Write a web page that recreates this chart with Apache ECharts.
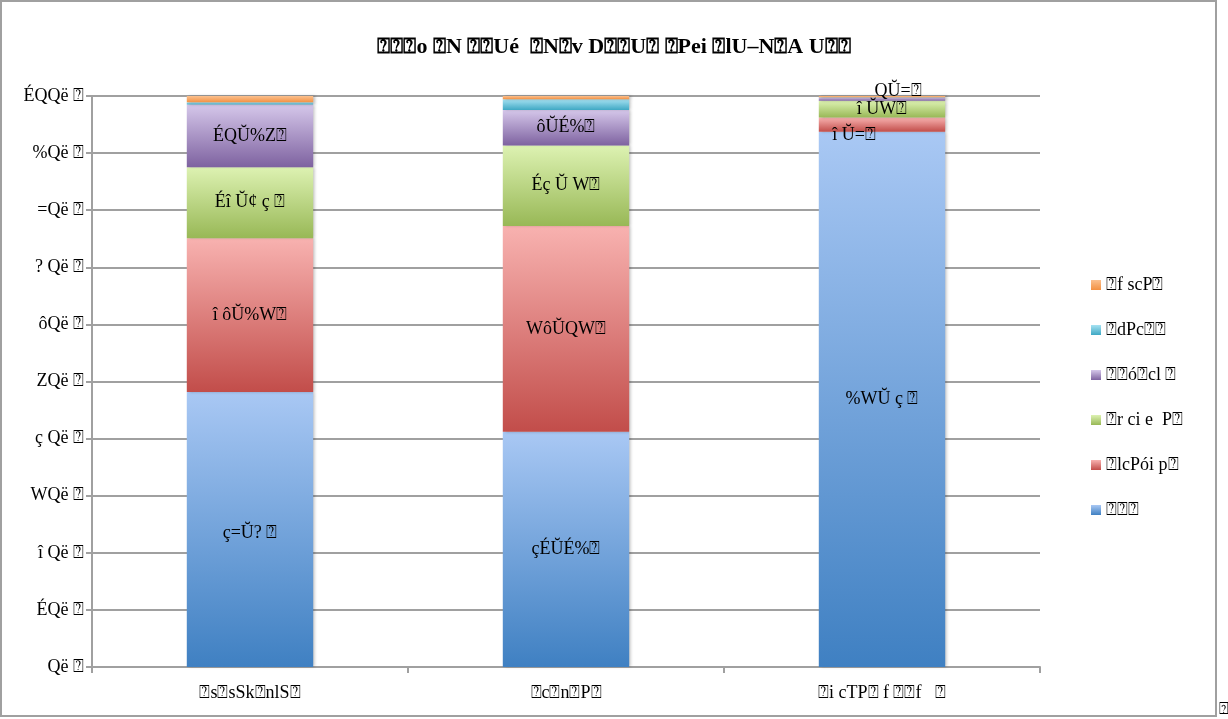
<!DOCTYPE html>
<html><head><meta charset="utf-8">
<script src="https://cdn.jsdelivr.net/npm/echarts@6/dist/echarts.min.js"></script>
<style>html,body{margin:0;padding:0;background:#fff}#c{width:1228px;height:719px}</style>
</head><body><div id="c"></div>
<script>
const titleText = '⍰⍰⍰o ⍰N ⍰⍰Ué  ⍰N⍰v D⍰⍰U⍰ ⍰Pei ⍰lU–N⍰A U⍰⍰';
const categories = ['⍰s⍰sSk⍰nlS⍰', '⍰c⍰n⍰P⍰', '⍰i cTP⍰ f ⍰⍰f   ⍰'];
const yTickLabels = ['Që ⍰','ÉQë ⍰','î Që ⍰','WQë ⍰','ç Që ⍰','ZQë ⍰','ôQë ⍰','? Që ⍰','=Që ⍰','%Që ⍰','ÉQQë ⍰'];
const seriesNames = ['⍰⍰⍰', '⍰lcPói p⍰', '⍰r ci e  P⍰', '⍰⍰ó⍰cl ⍰', '⍰dPc⍰⍰', '⍰f scP⍰'];
const blueValues   = [48.17, 41.19, 93.74];
const redValues    = [26.93, 36.03, 2.48];
const greenValues  = [12.44, 14.13, 2.93];
const purpleValues = [10.95, 6.19, 0.58];
const cyanValues   = [0.40, 1.89, 0.05];
const orangeValues = [1.11, 0.57, 0.22];
const blueLabels   = ['ç=Ŭ? ⍰', 'çÉŬÉ%⍰', '%WŬ ç ⍰'];
const redLabels    = ['î ôŬ%W⍰', 'WôŬQW⍰', 'î Ŭ=⍰'];
const greenLabels  = ['Éî Ŭ¢ ç ⍰', 'Éç Ŭ W⍰', 'î ŬW⍰'];
const purpleLabels = ['ÉQŬ%Z⍰', 'ôŬÉ%⍰', 'QŬ=⍰'];

const FONT = '"Liberation Serif", "DejaVu Serif", serif';
function grad(top, bottom) {
  return new echarts.graphic.LinearGradient(0, 0, 0, 1, [
    {offset: 0, color: top}, {offset: 1, color: bottom}
  ]);
}
const styles = [
  grad('#a9c8f4', '#3f80c2'),
  grad('#f8b2b0', '#c24d4a'),
  grad('#ddf2b2', '#98b856'),
  grad('#d5c7ea', '#7e62a0'),
  grad('#a6e2f2', '#3fa8c4'),
  grad('#fbc08e', '#f39142')
];
const values = [blueValues, redValues, greenValues, purpleValues, cyanValues, orangeValues];
const labels = [blueLabels, redLabels, greenLabels, purpleLabels, null, null];
const labelOffsets = {
  '1-2': [-28, 11],
  '3-2': [16, -8],
  '0-0': [0, 4]
};
const series = values.map((vals, si) => ({
  name: seriesNames[si],
  type: 'bar',
  stack: 'total',
  barWidth: '40%',
  itemStyle: {color: styles[si], shadowColor: 'rgba(0,0,0,0.25)', shadowBlur: 3, shadowOffsetX: 2},
  data: vals.map((v, ci) => {
    const item = {value: v};
    if (labels[si]) {
      item.label = {
        show: true, position: 'inside',
        formatter: labels[si][ci],
        color: '#000', fontFamily: FONT, fontSize: 18,
        offset: labelOffsets[si + '-' + ci] || [0, 0]
      };
    }
    return item;
  }),
  emphasis: {disabled: true}
}));

const chart = echarts.init(document.getElementById('c'));
chart.setOption({
  animation: false,
  title: {
    text: titleText, left: 'center', top: 31,
    textStyle: {fontFamily: FONT, fontSize: 22, fontWeight: 'bold', color: '#000'}
  },
  legend: {
    orient: 'vertical', left: 1086, top: 271, itemGap: 27,
    itemWidth: 10, itemHeight: 10, icon: 'rect',
    data: seriesNames.slice().reverse(),
    textStyle: {fontFamily: FONT, fontSize: 18, color: '#000'}
  },
  grid: {left: 92, right: 188, top: 96, bottom: 52},
  xAxis: {
    type: 'category', data: categories,
    axisLine: {lineStyle: {color: '#a0a0a0', width: 2}},
    axisTick: {show: true, length: 6, lineStyle: {color: '#a0a0a0', width: 2}},
    axisLabel: {fontFamily: FONT, fontSize: 18, color: '#000', margin: 17}
  },
  yAxis: {
    type: 'value', min: 0, max: 100, interval: 10,
    axisLine: {show: true, lineStyle: {color: '#a0a0a0', width: 2}},
    axisTick: {show: true, length: 6, lineStyle: {color: '#a0a0a0', width: 2}},
    splitLine: {lineStyle: {color: '#a0a0a0', width: 2}},
    axisLabel: {
      fontFamily: FONT, fontSize: 18, color: '#000', margin: 8,
      formatter: (v) => yTickLabels[Math.round(v / 10)]
    }
  },
  graphic: [
    {type: 'rect', shape: {x: 1, y: 1, width: 1215, height: 715}, silent: true,
     style: {fill: 'none', stroke: '#a0a0a0', lineWidth: 2}},
    {type: 'text', left: 1219, top: 702, silent: true,
     style: {text: '⍰', font: '16px ' + FONT, fill: '#000'}}
  ],
  series: series
});
</script></body></html>
